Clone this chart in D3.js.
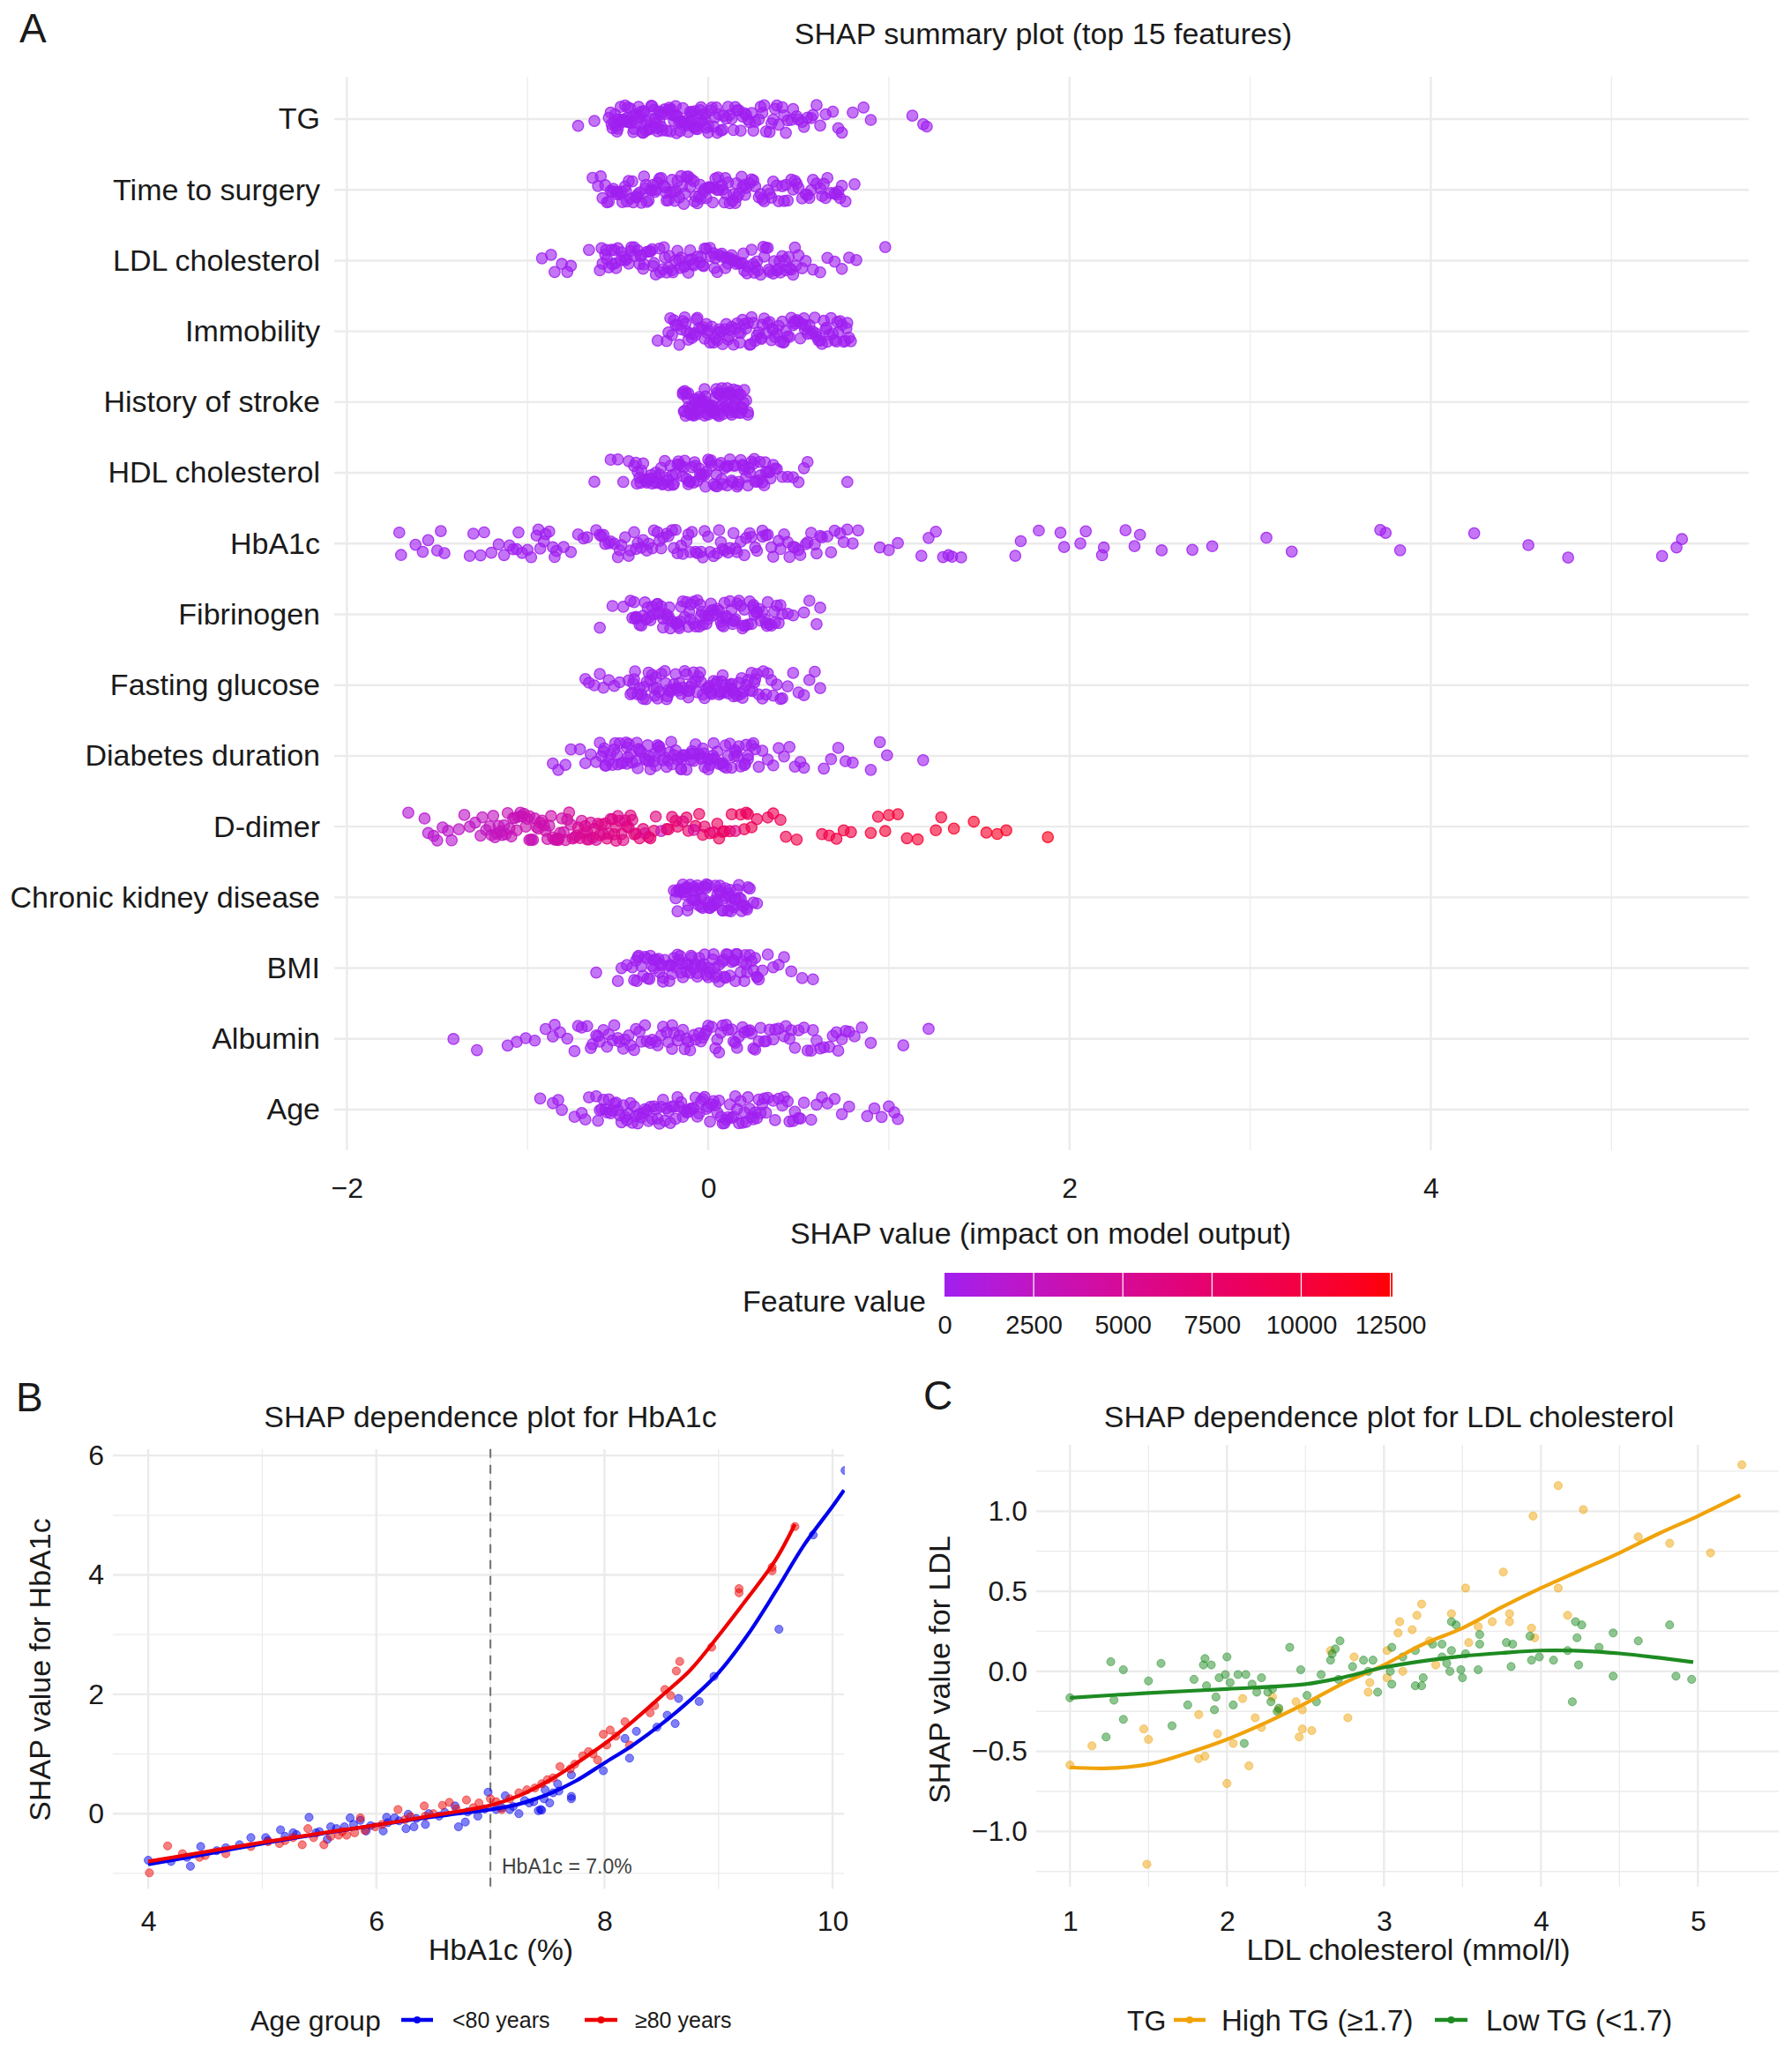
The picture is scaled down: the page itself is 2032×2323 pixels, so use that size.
<!DOCTYPE html>
<html>
<head>
<meta charset="utf-8">
<script src="https://cdn.jsdelivr.net/npm/d3@7"></script>
<style>
  body { margin: 0; background: #fff; }
</style>
</head>
<body>
<script>
// ---------- Panel A: SHAP summary ----------
const features = ["TG", "Time to surgery", "LDL cholesterol", "Immobility", "History of stroke",
  "HDL cholesterol", "HbA1c", "Fibrinogen", "Fasting glucose", "Diabetes duration",
  "D-dimer", "Chronic kidney disease", "BMI", "Albumin", "Age"];
const shapTicks = [-2, 0, 2, 4];
const shapMinor = [-1, 1, 3, 5];

const shapTG = [-0.72,-0.63,-0.55,-0.54,-0.53,-0.51,-0.5,-0.49,-0.47,-0.46,-0.45,-0.44,-0.42,-0.41,-0.4,-0.38,-0.37,-0.36,-0.35,-0.33,-0.32,-0.31,-0.29,-0.28,-0.27,-0.26,-0.24,-0.23,-0.22,-0.2,-0.19,-0.18,-0.17,-0.15,-0.14,-0.13,-0.11,-0.1,-0.09,-0.08,-0.06,-0.05,-0.04,-0.02,-0.01,0,0.02,0.04,0.05,0.07,0.1,0.12,0.13,0.15,0.18,0.2,0.21,0.23,0.26,0.28,0.3,0.32,0.34,0.37,0.39,0.41,0.43,0.46,0.49,0.52,0.55,0.57,0.6,0.62,0.65,0.69,0.72,0.74,0.8,0.86,0.9,1.13,1.19,1.21,
  -0.52,-0.48,-0.43,-0.39,-0.34,-0.3,-0.25,-0.21,-0.16,-0.12,-0.07,-0.03,-0.5,-0.45,-0.36,-0.27,-0.18,-0.09,0.08,0.17,0.25,0.35,0.03,0.11,
  -0.535,-0.505,-0.475,-0.455,-0.425,-0.395,-0.365,-0.345,-0.315,-0.285,-0.255,-0.235,-0.205,-0.175,-0.145,-0.125,-0.095,-0.065,-0.035,-0.015,0.015,0.045,0.085,0.14,0.19,0.24,0.31,0.38,0.44,0.5,0.58,
  -0.515,-0.485,-0.445,-0.415,-0.385,-0.355,-0.325,-0.295,-0.265,-0.215,-0.185,-0.155,-0.105,-0.075,-0.045,0.0,0.06,0.16,0.22,0.29,0.36,0.42,0.47,0.53];
const shapTime = [-0.64,-0.61,-0.57,-0.56,-0.54,-0.53,-0.51,-0.5,-0.48,-0.46,-0.45,-0.43,-0.42,-0.4,-0.39,-0.37,-0.35,-0.34,-0.32,-0.31,-0.29,-0.27,-0.26,-0.24,-0.23,-0.21,-0.2,-0.18,-0.16,-0.15,-0.13,-0.12,-0.1,-0.08,-0.07,-0.05,-0.04,-0.02,0,0.01,0.03,0.04,0.06,0.08,0.09,0.11,0.12,0.14,0.16,0.17,0.19,0.21,0.24,0.26,0.29,0.31,0.34,0.36,0.39,0.42,0.44,0.47,0.49,0.52,0.55,0.57,0.6,0.63,0.65,0.68,0.71,0.73,0.76,0.81,
  -0.55,-0.49,-0.44,-0.38,-0.33,-0.28,-0.22,-0.17,-0.11,-0.06,-0.01,0.05,0.1,0.15,0.2,0.28,0.35,0.46,0.54,0.62,0.7,
  -0.595,-0.525,-0.475,-0.415,-0.355,-0.305,-0.245,-0.185,-0.135,-0.075,-0.025,0.025,0.075,0.135,0.185,0.23,0.3,0.38,0.43,0.5,0.58,0.66,0.74,
  -0.585,-0.505,-0.455,-0.395,-0.345,-0.295,-0.235,-0.195,-0.145,-0.095,-0.045,0.005,0.055,0.095,0.155,0.205,0.25,0.33,0.41,0.48,0.56,0.64,0.72];
const shapLDL = [-0.92,-0.87,-0.85,-0.81,-0.78,-0.76,-0.66,-0.6,-0.59,-0.57,-0.55,-0.53,-0.52,-0.5,-0.48,-0.46,-0.45,-0.43,-0.41,-0.39,-0.38,-0.36,-0.34,-0.32,-0.31,-0.29,-0.27,-0.25,-0.24,-0.22,-0.2,-0.18,-0.17,-0.15,-0.13,-0.11,-0.1,-0.08,-0.06,-0.04,-0.03,-0.01,0.01,0.03,0.04,0.06,0.08,0.1,0.11,0.13,0.15,0.17,0.18,0.2,0.22,0.24,0.25,0.27,0.29,0.31,0.32,0.34,0.36,0.38,0.39,0.41,0.43,0.45,0.46,0.48,0.5,0.54,0.58,0.62,0.66,0.7,0.74,0.78,0.82,0.98,
  -0.56,-0.51,-0.44,-0.37,-0.3,-0.23,-0.16,-0.09,-0.02,0.05,0.12,0.19,0.26,0.33,0.4,0.47,
  -0.585,-0.535,-0.485,-0.425,-0.375,-0.325,-0.265,-0.215,-0.155,-0.105,-0.045,0.015,0.075,0.135,0.195,0.255,0.305,0.365,0.425,0.485,
  -0.565,-0.515,-0.465,-0.405,-0.355,-0.305,-0.245,-0.195,-0.135,-0.085,-0.025,0.035,0.095,0.155,0.215,0.275,0.335,0.395,0.445,0.52];
const shapImmob = [-0.28,-0.22,-0.21,-0.19,-0.18,-0.16,-0.15,-0.13,-0.12,-0.1,-0.09,-0.07,-0.06,-0.04,-0.03,-0.01,0,0.02,0.03,0.05,0.06,0.08,0.09,0.11,0.12,0.14,0.15,0.17,0.18,0.2,0.21,0.23,0.24,0.26,0.27,0.29,0.3,0.32,0.33,0.35,0.36,0.38,0.39,0.41,0.42,0.44,0.45,0.47,0.48,0.5,0.51,0.53,0.54,0.56,0.57,0.59,0.6,0.62,0.63,0.65,0.66,0.68,0.69,0.71,0.72,0.74,0.75,0.77,0.79,
  -0.2,-0.14,-0.08,-0.02,0.04,0.1,0.16,0.22,0.28,0.34,0.4,0.46,0.52,0.58,0.64,0.7,0.76,
  -0.17,-0.11,-0.05,0.01,0.07,0.13,0.19,0.25,0.31,0.37,0.43,0.49,0.55,0.61,0.67,0.73,0.78,
  -0.23,-0.125,-0.065,-0.005,0.055,0.115,0.175,0.235,0.295,0.355,0.415,0.475,0.535,0.595,0.655,0.715,0.765];
const shapStroke = [-0.14,-0.13,-0.13,-0.12,-0.11,-0.11,-0.1,-0.09,-0.08,-0.08,-0.07,-0.06,-0.05,-0.05,-0.04,-0.03,-0.02,-0.02,-0.01,0,0,0.01,0.02,0.03,0.03,0.04,0.05,0.05,0.06,0.07,0.08,0.08,0.09,0.1,0.1,0.11,0.12,0.13,0.13,0.14,0.15,0.15,0.16,0.17,0.18,0.19,0.2,0.21,0.22,
  -0.135,-0.115,-0.095,-0.075,-0.055,-0.035,-0.015,0.005,0.025,0.045,0.065,0.085,0.105,0.125,0.145,0.165,0.185,-0.125,-0.085,-0.045,-0.005,0.035,0.075,0.115,0.155,0.195,
  -0.14,-0.1,-0.06,-0.02,0.02,0.06,0.1,0.14,0.18,0.22];
const shapHDL = [-0.63,-0.54,-0.5,-0.47,-0.44,-0.41,-0.4,-0.38,-0.37,-0.35,-0.34,-0.32,-0.31,-0.29,-0.28,-0.26,-0.25,-0.23,-0.22,-0.2,-0.19,-0.17,-0.16,-0.14,-0.13,-0.11,-0.1,-0.08,-0.07,-0.05,-0.04,-0.02,-0.01,0.01,0.02,0.04,0.05,0.07,0.08,0.1,0.11,0.13,0.14,0.16,0.17,0.19,0.2,0.22,0.23,0.25,0.26,0.28,0.29,0.31,0.32,0.34,0.36,0.38,0.41,0.44,0.47,0.5,0.53,0.55,0.77,
  -0.39,-0.33,-0.27,-0.21,-0.15,-0.09,-0.03,0.03,0.09,0.15,0.21,0.27,0.33,-0.36,-0.24,-0.12,0,0.12,0.24,
  -0.375,-0.315,-0.255,-0.195,-0.135,-0.075,-0.015,0.045,0.105,0.165,0.225,0.285,0.345,-0.29,-0.18,-0.06,0.06,0.18,0.3,
  -0.395,-0.345,-0.285,-0.225,-0.165,-0.105,-0.045,0.015,0.075,0.135,0.195,0.255,0.315,0.37];
const shapHbA1c = [-1.71,-1.7,-1.62,-1.58,-1.55,-1.5,-1.48,-1.46,-1.32,-1.3,-1.26,-1.24,-1.16,-1.13,-1.1,-1.06,-1.03,-1.0,-0.98,-0.95,-0.93,-0.9,-0.88,-0.86,-0.84,-0.76,-0.72,-0.69,-0.67,-0.62,-0.59,-0.57,-0.54,-0.52,-0.49,-0.46,-0.44,-0.41,-0.39,-0.36,-0.33,-0.31,-0.28,-0.25,-0.23,-0.2,-0.18,-0.15,-0.12,-0.1,-0.07,-0.04,-0.02,0.01,0.03,0.06,0.09,0.12,0.15,0.18,0.21,0.24,0.27,0.3,0.33,0.36,0.39,0.42,0.45,0.48,0.51,0.54,0.57,0.6,0.63,0.66,0.7,0.73,0.77,0.8,0.83,0.95,1.0,1.05,1.18,1.22,1.26,1.3,1.33,1.35,1.4,1.7,1.73,1.83,1.95,1.97,2.06,2.09,2.18,2.19,2.31,2.36,2.39,2.51,2.68,2.79,3.09,3.23,3.72,3.75,3.83,4.24,4.54,4.76,5.28,5.36,5.39,
  -0.6,-0.5,-0.4,-0.3,-0.22,-0.14,-0.06,0.0,0.08,0.16,0.26,0.35,0.44,0.55,0.68,-0.94,-1.05,-0.85,
  -0.58,-0.48,-0.37,-0.27,-0.17,-0.09,0.05,0.11,0.2,0.3,0.4,0.5,0.62,0.75,-0.8,-1.2,-1.08,-0.91,
  -0.55,-0.43,-0.34,-0.26,-0.19,-0.11,-0.03,0.07,0.14,0.23,0.32,0.47,0.59];
const shapFib = [-0.6,-0.53,-0.47,-0.43,-0.41,-0.4,-0.38,-0.36,-0.35,-0.33,-0.31,-0.3,-0.28,-0.26,-0.25,-0.23,-0.21,-0.2,-0.18,-0.16,-0.15,-0.13,-0.11,-0.1,-0.08,-0.06,-0.05,-0.03,-0.01,0,0.02,0.04,0.05,0.07,0.09,0.1,0.12,0.14,0.15,0.17,0.19,0.2,0.22,0.24,0.25,0.27,0.29,0.3,0.32,0.34,0.35,0.37,0.39,0.41,0.44,0.47,0.53,0.56,0.6,0.62,
  -0.42,-0.37,-0.32,-0.27,-0.22,-0.17,-0.12,-0.07,-0.02,0.03,0.08,0.13,0.18,0.23,0.28,0.33,0.38,-0.14,-0.04,0.06,0.16,
  -0.405,-0.345,-0.285,-0.225,-0.165,-0.105,-0.045,0.015,0.075,0.135,0.195,0.255,0.315,0.365,-0.25,-0.08,0.0,0.1,0.25,
  -0.395,-0.335,-0.275,-0.215,-0.155,-0.095,-0.035,0.025,0.085,0.145,0.205,0.265,0.325,0.4];
const shapGlu = [-0.68,-0.66,-0.63,-0.6,-0.58,-0.55,-0.52,-0.49,-0.44,-0.42,-0.41,-0.39,-0.37,-0.36,-0.34,-0.32,-0.31,-0.29,-0.27,-0.26,-0.24,-0.22,-0.21,-0.19,-0.17,-0.16,-0.14,-0.12,-0.11,-0.09,-0.07,-0.06,-0.04,-0.02,-0.01,0.01,0.03,0.04,0.06,0.08,0.09,0.11,0.13,0.14,0.16,0.18,0.19,0.21,0.23,0.24,0.26,0.28,0.3,0.33,0.35,0.38,0.41,0.44,0.47,0.5,0.53,0.56,0.59,0.62,
  -0.43,-0.38,-0.33,-0.28,-0.23,-0.18,-0.13,-0.08,-0.03,0.02,0.07,0.12,0.17,0.22,0.27,-0.2,-0.1,0,0.1,
  -0.415,-0.355,-0.295,-0.235,-0.175,-0.115,-0.055,0.005,0.065,0.125,0.185,0.245,0.305,-0.3,-0.15,0.05,0.15,0.36,
  -0.405,-0.345,-0.285,-0.225,-0.165,-0.105,-0.045,0.015,0.075,0.135,0.195,0.255,0.32,0.4];
const shapDiab = [-0.86,-0.83,-0.79,-0.76,-0.71,-0.68,-0.65,-0.62,-0.6,-0.58,-0.57,-0.55,-0.53,-0.52,-0.5,-0.48,-0.47,-0.45,-0.43,-0.42,-0.4,-0.38,-0.37,-0.35,-0.33,-0.32,-0.3,-0.28,-0.27,-0.25,-0.23,-0.22,-0.2,-0.18,-0.17,-0.15,-0.13,-0.12,-0.1,-0.08,-0.07,-0.05,-0.03,-0.02,0,0.02,0.03,0.05,0.07,0.08,0.1,0.12,0.13,0.15,0.17,0.18,0.2,0.22,0.24,0.26,0.28,0.3,0.33,0.36,0.39,0.42,0.45,0.48,0.51,0.53,0.64,0.68,0.72,0.76,0.8,0.9,0.95,0.99,1.19,
  -0.59,-0.54,-0.49,-0.44,-0.39,-0.34,-0.29,-0.24,-0.19,-0.14,-0.09,-0.04,0.01,0.06,0.11,0.16,0.21,0.25,
  -0.575,-0.515,-0.455,-0.395,-0.335,-0.275,-0.215,-0.155,-0.095,-0.035,0.025,0.085,0.145,0.205,-0.45,-0.3,-0.15,0.0,
  -0.565,-0.505,-0.445,-0.385,-0.325,-0.265,-0.205,-0.145,-0.085,-0.025,0.035,0.095,0.155,0.22];
// D-dimer: [SHAP value, raw feature value]
const dDimer = [[-1.66,1500],[-1.57,1800],[-1.55,1600],[-1.52,2000],[-1.5,1700],[-1.47,1900],[-1.44,2100],[-1.42,1800],[-1.38,2200],[-1.32,2500],[-1.29,2300],[-1.26,2600],[-1.23,2400],[-1.2,2800],[-1.18,2600],
  [-1.16,2900],[-1.14,3100],[-1.12,2700],[-1.1,3300],[-1.08,3000],[-1.06,3400],[-1.04,2800],[-1.02,3500],[-1.0,3200],[-0.98,3600],[-0.96,3000],[-0.94,3800],[-0.92,3400],[-0.9,3900],[-0.88,3300],[-0.86,4100],[-0.84,3700],[-0.82,4200],[-0.8,3600],
  [-0.78,4500],[-0.76,4000],[-0.74,4800],[-0.72,5200],[-0.7,4400],[-0.68,5500],[-0.66,5000],[-0.64,5800],[-0.62,4600],[-0.6,6000],[-0.58,5300],[-0.56,6200],[-0.54,5000],[-0.52,6400],[-0.5,5600],[-0.48,6100],[-0.46,4800],[-0.44,6500],[-0.42,5900],[-0.4,6300],
  [-1.11,3000],[-1.03,3300],[-0.95,3500],[-0.87,3800],[-0.79,4300],[-0.71,5000],[-0.63,5400],[-0.55,5700],[-0.47,6000],
  [-1.15,3000],[-1.07,3200],[-0.99,3400],[-0.91,3700],[-0.83,4000],[-0.77,4600],[-0.69,5100],[-0.61,5600],[-0.53,5900],[-0.45,6200],[-1.13,2600],[-0.97,3100],[-0.81,3900],[-0.65,4900],[-0.49,5800],
  [-1.19,2700],[-1.09,3100],[-1.01,3300],[-0.93,3600],[-0.85,4000],[-0.75,4700],[-0.67,5200],[-0.59,5800],[-0.51,6000],[-0.43,6400],[-1.25,2500],[-1.35,2300],[-0.36,6600],[-0.3,7100],[-0.22,7300],[-0.12,7700],[-0.03,8100],[0.05,8300],[0.13,8600],[0.2,8800],
  [-1.17,2800],[-1.05,3200],[-0.89,3800],[-0.73,4900],[-0.57,5900],[-0.41,6400],[-1.21,2600],[-0.99,3300],[-0.83,4100],[-0.67,5300],[-0.51,6100],[-0.33,6900],[-0.18,7400],[-0.07,7900],[0.08,8400],[0.22,8800],
  [-0.38,6800],[-0.35,5200],[-0.32,7000],[-0.29,6500],[-0.26,3000],[-0.23,7200],[-0.2,6900],[-0.17,7500],[-0.14,6200],[-0.11,7800],[-0.08,4500],[-0.05,8000],[-0.02,7600],[0.01,8200],[0.03,7000],[0.06,8500],[0.09,7900],[0.12,8300],[0.15,6000],[0.18,8700],[0.21,8000],[0.24,8900],[0.27,8400],
  [0.33,8600],[0.36,9000],[0.4,8800],[0.43,9200],[0.49,9500],[0.63,9400],[0.67,9800],[0.71,9600],[0.75,10000],[0.79,9700],[0.9,10200],[0.94,10000],[0.98,10500],[1.0,10400],[1.05,10600],[1.1,10300],[1.16,10800],[1.26,10700],[1.29,10500],[1.36,11000],[1.47,11200],[1.54,11100],[1.6,11500],[1.65,11300],[1.88,11800]];
const shapCKD = [-0.19,-0.18,-0.17,-0.16,-0.16,-0.15,-0.14,-0.13,-0.12,-0.12,-0.11,-0.1,-0.09,-0.08,-0.08,-0.07,-0.06,-0.05,-0.04,-0.04,-0.03,-0.02,-0.01,0,0,0.01,0.02,0.03,0.04,0.04,0.05,0.06,0.07,0.08,0.08,0.09,0.1,0.11,0.12,0.12,0.13,0.14,0.15,0.16,0.17,0.18,0.19,0.2,0.21,0.22,0.23,0.25,0.27,
  -0.175,-0.145,-0.115,-0.085,-0.055,-0.025,0.005,0.035,0.065,0.095,0.125,0.155,0.185,0.215,-0.13,-0.07,-0.01,0.05,0.11,0.17];
const shapBMI = [-0.62,-0.5,-0.48,-0.45,-0.42,-0.4,-0.39,-0.37,-0.35,-0.34,-0.32,-0.3,-0.29,-0.27,-0.25,-0.24,-0.22,-0.2,-0.19,-0.17,-0.15,-0.14,-0.12,-0.1,-0.09,-0.07,-0.05,-0.04,-0.02,0,0.01,0.03,0.05,0.06,0.08,0.1,0.11,0.13,0.15,0.16,0.18,0.2,0.21,0.23,0.25,0.27,0.28,0.3,0.33,0.36,0.39,0.42,0.46,0.52,0.58,
  -0.41,-0.36,-0.31,-0.26,-0.21,-0.16,-0.11,-0.06,-0.01,0.04,0.09,0.14,0.19,0.24,-0.3,-0.18,-0.06,0.06,
  -0.395,-0.335,-0.275,-0.215,-0.155,-0.095,-0.035,0.025,0.085,0.145,0.205,0.26,-0.25,-0.12,0.0,0.12,
  -0.385,-0.325,-0.265,-0.205,-0.145,-0.085,-0.025,0.035,0.095,0.155,0.215,0.27];
const shapAlb = [-1.41,-1.28,-1.11,-1.06,-1.01,-0.96,-0.9,-0.86,-0.82,-0.78,-0.74,-0.72,-0.7,-0.67,-0.64,-0.61,-0.58,-0.55,-0.52,-0.49,-0.46,-0.43,-0.4,-0.37,-0.34,-0.31,-0.29,-0.28,-0.25,-0.22,-0.2,-0.19,-0.16,-0.13,-0.11,-0.1,-0.07,-0.04,-0.02,-0.01,0.02,0.05,0.07,0.08,0.11,0.14,0.16,0.17,0.2,0.23,0.25,0.26,0.29,0.32,0.36,0.39,0.43,0.46,0.5,0.53,0.57,0.6,0.64,0.67,0.71,0.74,0.78,0.81,0.85,0.9,1.08,1.22,
  -0.65,-0.56,-0.47,-0.38,-0.26,-0.17,-0.05,0.04,0.13,0.22,0.31,0.42,0.55,0.69,
  -0.6,-0.5,-0.41,-0.32,-0.23,-0.14,-0.08,0.0,0.1,0.19,0.28,0.37,0.48,0.62,0.76,-0.85,
  -0.62,-0.53,-0.44,-0.35,-0.2,-0.12,-0.03,0.06,0.15,0.24,0.34,0.45,0.58,0.72];
const shapAge = [-0.93,-0.86,-0.83,-0.81,-0.74,-0.7,-0.66,-0.62,-0.6,-0.58,-0.56,-0.54,-0.52,-0.5,-0.48,-0.46,-0.44,-0.42,-0.4,-0.38,-0.36,-0.34,-0.32,-0.3,-0.28,-0.26,-0.24,-0.22,-0.2,-0.18,-0.16,-0.14,-0.12,-0.1,-0.08,-0.06,-0.04,-0.02,0,0.02,0.04,0.06,0.08,0.1,0.12,0.14,0.16,0.18,0.2,0.22,0.24,0.26,0.28,0.3,0.33,0.36,0.39,0.42,0.45,0.48,0.51,0.53,0.57,0.6,0.63,0.66,0.7,0.74,0.78,0.88,0.92,0.96,1.0,1.03,1.05,
  -0.61,-0.55,-0.49,-0.43,-0.37,-0.31,-0.25,-0.19,-0.13,-0.07,-0.01,0.05,0.11,0.17,0.23,0.29,0.37,0.47,
  -0.57,-0.51,-0.45,-0.39,-0.33,-0.27,-0.21,-0.15,-0.09,-0.03,0.03,0.09,0.15,0.21,0.27,0.32,0.41,0.5,-0.68,
  -0.59,-0.53,-0.47,-0.41,-0.35,-0.29,-0.23,-0.17,-0.11,-0.05,0.01,0.07,0.13,0.19,0.25,0.31,0.44];

const featureTicks = [0, 2500, 5000, 7500, 10000, 12500];

// ---------- Panel B: HbA1c dependence ----------
const hbTicks = [4, 6, 8, 10];
const hbShapTicks = [0, 2, 4, 6];
const hbYoung = [[4.0,-0.78],[4.37,-0.88],[4.34,-0.73],[4.46,-0.55],[4.68,-0.57],[4.9,-0.4],[5.03,-0.4],[5.16,-0.27],[5.27,-0.32],[5.41,-0.06],[5.47,-0.32],[5.57,-0.43],[5.6,-0.22],[5.72,-0.22],[5.77,-0.07],[5.86,-0.11],[5.91,-0.29],[6.09,-0.06],[6.06,-0.29],[6.16,-0.07],[6.26,-0.25],[6.28,-0.01],[6.33,-0.22],[6.43,-0.18],[6.46,0.0],[6.69,0.13],[6.72,-0.22],[6.78,-0.14],[6.89,-0.04],[6.98,0.36],[7.05,0.07],[7.13,0.3],[7.17,0.07],[7.25,0.0],[7.3,0.22],[7.34,0.18],[7.44,0.07],[7.47,0.25],[7.52,0.18],[7.48,0.4],[7.59,0.5],[7.71,0.29],[7.71,0.25],[7.71,0.65],[7.99,0.72],[8.18,1.26],[8.22,0.93],[8.28,1.38],[8.46,1.45],[8.55,1.65],[8.62,1.51],[8.65,1.93],[8.83,1.88],[8.96,2.3],[9.53,3.09],[9.83,4.67],[10.11,5.75],
  [4.2,-0.8],[4.6,-0.62],[4.8,-0.52],[5.05,-0.45],[5.2,-0.38],[5.3,-0.35],[5.5,-0.3],[5.65,-0.25],[5.8,-0.18],[5.95,-0.2],[6.1,-0.15],[6.2,-0.12],[6.35,-0.08],[6.55,-0.04],[6.6,0.02],[6.8,0.03],[6.95,0.08],[7.1,0.1],[7.2,0.12],[7.38,0.2],[7.42,0.05],[7.45,0.06],[7.55,0.35],[7.6,0.38]];
const hbOld = [[4.01,-0.99],[4.17,-0.54],[4.3,-0.67],[4.45,-0.73],[4.68,-0.67],[5.15,-0.5],[5.27,-0.4],[5.35,-0.52],[5.4,-0.25],[5.54,-0.52],[5.67,-0.36],[5.74,-0.36],[5.81,-0.32],[5.86,-0.07],[5.99,-0.22],[6.19,0.07],[6.42,0.13],[6.43,-0.04],[6.58,0.14],[6.64,0.19],[6.79,0.23],[6.9,0.18],[7.0,0.25],[7.1,0.07],[7.17,0.25],[7.32,0.4],[7.39,0.43],[7.5,0.57],[7.61,0.79],[7.74,0.83],[7.81,0.97],[7.86,1.04],[7.94,0.9],[7.99,1.33],[8.05,1.4],[8.02,1.15],[8.18,1.54],[8.22,1.15],[8.4,1.69],[8.44,1.81],[8.53,2.08],[8.58,1.98],[8.63,2.39],[8.66,2.55],[8.94,2.79],[9.18,3.77],[9.18,3.7],[9.47,4.07],[9.47,4.13],[9.67,4.81],
  [4.5,-0.7],[4.9,-0.55],[5.05,-0.47],[5.2,-0.45],[5.45,-0.4],[5.6,-0.38],[5.7,-0.3],[5.9,-0.28],[6.05,-0.18],[6.25,-0.1],[6.3,-0.05],[6.5,0.0],[6.7,0.08],[6.85,0.1],[7.05,0.2],[7.25,0.35],[7.45,0.5],[7.55,0.6],[7.7,0.75],[7.9,1.0],[8.1,1.3]];
const hbYoungFit = [[4.0,-0.85],[4.5,-0.68],[5.0,-0.5],[5.5,-0.34],[6.0,-0.19],[6.5,-0.05],[7.0,0.07],[7.25,0.16],[7.5,0.32],[7.75,0.55],[8.0,0.85],[8.25,1.15],[8.5,1.5],[8.75,1.9],[9.0,2.36],[9.25,2.98],[9.5,3.72],[9.75,4.5],[10.0,5.15],[10.1,5.42]];
const hbOldFit = [[4.0,-0.8],[4.5,-0.64],[5.0,-0.48],[5.5,-0.33],[6.0,-0.19],[6.5,-0.03],[7.0,0.14],[7.25,0.3],[7.5,0.54],[7.75,0.84],[8.0,1.17],[8.25,1.55],[8.5,1.97],[8.75,2.4],[9.0,2.98],[9.25,3.6],[9.5,4.25],[9.67,4.85]];
const hbCutoff = 7.0;

// ---------- Panel C: LDL dependence ----------
const ldlTicks = [1, 2, 3, 4, 5];
const ldlShapTicks = [-1, -0.5, 0, 0.5, 1];
const ldlHighTG = [[1.0,-0.585],[1.14,-0.465],[1.47,-0.36],[1.5,-0.425],[1.49,-1.205],[1.82,-0.27],[1.82,-0.545],[1.86,-0.53],[1.94,-0.39],[2.0,-0.7],[2.04,-0.45],[2.1,-0.17],[2.14,-0.59],[2.18,-0.29],[2.22,-0.35],[2.29,-0.16],[2.33,-0.24],[2.44,-0.19],[2.46,-0.41],[2.48,-0.36],[2.48,-0.24],[2.54,-0.37],[2.66,0.13],[2.77,-0.29],[2.81,0.09],[2.91,-0.07],[2.9,-0.13],[3.02,-0.04],[3.02,0.13],[3.09,0.24],[3.1,0.31],[3.12,0.0],[3.18,0.26],[3.21,0.35],[3.24,0.42],[3.29,0.19],[3.33,0.04],[3.43,0.36],[3.52,0.52],[3.54,0.18],[3.6,0.28],[3.69,0.31],[3.76,0.62],[3.8,0.31],[3.8,0.36],[3.94,0.27],[3.95,0.97],[3.96,0.21],[4.11,0.52],[4.11,1.16],[4.17,0.35],[4.27,1.01],[4.62,0.84],[4.82,0.8],[5.08,0.74],[5.28,1.29]];
const ldlLowTG = [[1.0,-0.165],[1.23,-0.41],[1.26,0.06],[1.28,-0.18],[1.34,0.01],[1.34,-0.3],[1.5,-0.06],[1.58,0.05],[1.65,-0.34],[1.75,-0.21],[1.79,-0.05],[1.85,0.04],[1.86,0.08],[1.87,-0.09],[1.9,0.04],[1.92,-0.24],[1.93,-0.16],[1.95,-0.04],[1.99,-0.02],[2.0,0.09],[2.02,-0.07],[2.04,-0.21],[2.07,-0.02],[2.12,-0.02],[2.11,-0.45],[2.16,-0.08],[2.19,-0.13],[2.22,-0.04],[2.26,-0.13],[2.28,-0.19],[2.29,-0.11],[2.32,-0.25],[2.33,-0.23],[2.4,0.15],[2.47,0.01],[2.51,-0.15],[2.57,-0.19],[2.6,-0.02],[2.66,0.07],[2.67,0.11],[2.69,0.14],[2.71,-0.05],[2.72,0.19],[2.8,0.03],[2.87,0.07],[2.9,0.0],[2.93,0.07],[2.96,-0.13],[3.04,0.0],[3.05,-0.08],[3.05,0.15],[3.12,0.09],[3.2,-0.09],[3.2,0.13],[3.24,-0.09],[3.25,-0.04],[3.31,0.17],[3.37,0.09],[3.37,0.17],[3.4,0.05],[3.42,0.0],[3.43,0.31],[3.43,0.13],[3.46,0.29],[3.49,0.01],[3.5,-0.04],[3.52,0.11],[3.6,0.01],[3.61,0.23],[3.61,0.17],[3.78,0.18],[3.81,0.03],[3.82,0.17],[3.93,0.22],[3.94,0.07],[3.99,0.09],[4.08,0.07],[4.17,0.13],[4.2,-0.19],[4.22,0.31],[4.23,0.21],[4.24,0.04],[4.26,0.29],[4.37,0.15],[4.46,0.24],[4.46,-0.03],[4.62,0.19],[4.82,0.29],[4.86,-0.03],[4.96,-0.05]];
const ldlHighFit = [[1.0,-0.6],[1.25,-0.605],[1.5,-0.58],[1.75,-0.51],[2.0,-0.425],[2.25,-0.32],[2.5,-0.2],[2.75,-0.07],[3.0,0.04],[3.25,0.17],[3.5,0.27],[3.75,0.4],[4.0,0.52],[4.25,0.63],[4.5,0.74],[4.75,0.86],[5.0,0.97],[5.27,1.1]];
const ldlLowFit = [[1.0,-0.165],[1.5,-0.135],[2.0,-0.11],[2.5,-0.08],[2.75,-0.035],[3.0,0.025],[3.25,0.065],[3.5,0.095],[3.75,0.115],[4.0,0.13],[4.25,0.128],[4.5,0.112],[4.75,0.085],[4.97,0.058]];

// ---------- drawing ----------
const FONT = '"Liberation Sans", Arial, Helvetica, sans-serif';
const INK = "#1a1a1a";
const GRID = "#EBEBEB";

const svg = d3.select("body").append("svg")
    .attr("width", 2032)
    .attr("height", 2323)
    .style("font-family", FONT);
svg.append("rect").attr("width", 2032).attr("height", 2323).attr("fill", "#fff");

function label(g, txt, x, y, size, anchor = "middle", fill = INK) {
    return g.append("text").attr("x", x).attr("y", y).attr("font-size", size)
        .attr("text-anchor", anchor).attr("fill", fill).text(txt);
}

// strip ggplot-minimal style axis: no domain, no ticks
function cleanAxis(g, size) {
    g.attr("font-size", size);
    g.select(".domain").remove();
    g.selectAll(".tick line").remove();
    g.selectAll(".tick text").attr("font-size", size).attr("font-family", FONT).attr("fill", INK);
}

function vGrid(g, scale, vals, y0, y1, w) {
    g.append("g").selectAll("line").data(vals).join("line")
        .attr("x1", d => scale(d)).attr("x2", d => scale(d))
        .attr("y1", y0).attr("y2", y1)
        .attr("stroke", GRID).attr("stroke-width", w);
}
function hGrid(g, scale, vals, x0, x1, w) {
    g.append("g").selectAll("line").data(vals).join("line")
        .attr("y1", d => scale(d)).attr("y2", d => scale(d))
        .attr("x1", x0).attr("x2", x1)
        .attr("stroke", GRID).attr("stroke-width", w);
}

// ===== Panel A =====
const A = svg.append("g");
const xA = d3.scaleLinear().domain([-2.07, 5.76]).range([379, 1983]);
const yA = d3.scalePoint().domain(features).range([135, 1258]);
const colour = d3.scaleLinear().domain([0, 12560]).range(["#A020F0", "#FF0000"]).interpolate(d3.interpolateLab);

vGrid(A, xA, shapMinor, 87, 1304, 1.3);
vGrid(A, xA, shapTicks, 87, 1304, 2.4);
hGrid(A, yA, features, 379, 1983, 2.4);

const rowValues = {
    "TG": shapTG, "Time to surgery": shapTime, "LDL cholesterol": shapLDL, "Immobility": shapImmob,
    "History of stroke": shapStroke, "HDL cholesterol": shapHDL, "HbA1c": shapHbA1c, "Fibrinogen": shapFib,
    "Fasting glucose": shapGlu, "Diabetes duration": shapDiab, "Chronic kidney disease": shapCKD,
    "BMI": shapBMI, "Albumin": shapAlb, "Age": shapAge
};
// raw values of the other features are tiny next to D-dimer, so they sit at the low end of the scale
const points = [];
features.forEach((f, r) => {
    const vals = f === "D-dimer" ? dDimer : rowValues[f].map(v => [v, 0]);
    vals.forEach((d, i) => {
        // vertical jitter (layout only, like geom_jitter height 0.2), from a fixed hash of the index
        const h = Math.sin((i + 1) * 12.9898 + (r + 1) * 78.233) * 43758.5453;
        const j = (h - Math.floor(h)) * 2 - 1;
        points.push({ feature: f, shap: d[0], fv: d[1], jit: j * 16 });
    });
});

A.append("g").selectAll("circle").data(points).join("circle")
    .attr("cx", d => xA(d.shap))
    .attr("cy", d => yA(d.feature) + d.jit)
    .attr("r", 6.2)
    .attr("fill", d => colour(d.fv))
    .attr("fill-opacity", 0.62)
    .attr("stroke", d => colour(d.fv))
    .attr("stroke-opacity", 0.85)
    .attr("stroke-width", 1.3);

A.append("g").attr("transform", "translate(0,1335)")
    .call(d3.axisBottom(xA).tickValues(shapTicks).tickFormat(d3.format("d")).tickSize(0).tickPadding(0))
    .call(g => cleanAxis(g, 32));
A.append("g").attr("transform", "translate(363,0)")
    .call(d3.axisLeft(yA).tickSize(0).tickPadding(0))
    .call(g => cleanAxis(g, 34));

label(A, "SHAP summary plot (top 15 features)", 1183, 50, 34);
label(A, "SHAP value (impact on model output)", 1180, 1410, 34);
label(A, "A", 22, 48, 46, "start");

// colour bar legend
const xBar = d3.scaleLinear().domain([0, 12560]).range([1071, 1579]);
const grad = svg.append("defs").append("linearGradient").attr("id", "fvGrad");
d3.range(0, 1.0001, 0.05).forEach(t => {
    grad.append("stop").attr("offset", t).attr("stop-color", colour(t * 12560));
});
A.append("rect").attr("x", 1071).attr("y", 1443).attr("width", 508).attr("height", 27).attr("fill", "url(#fvGrad)");
A.append("g").selectAll("line").data(featureTicks.slice(1)).join("line")
    .attr("x1", d => xBar(d)).attr("x2", d => xBar(d)).attr("y1", 1443).attr("y2", 1470)
    .attr("stroke", "#fff").attr("stroke-width", 1.2);
A.append("g").attr("transform", "translate(0,1491)")
    .call(d3.axisBottom(xBar).tickValues(featureTicks).tickFormat(d3.format("d")).tickSize(0).tickPadding(0))
    .call(g => cleanAxis(g, 29));
label(A, "Feature value", 1050, 1487, 34, "end");

// ===== Panel B =====
const B = svg.append("g");
const xB = d3.scaleLinear().domain([3.69, 10.1]).range([128, 957]);
const yB = d3.scaleLinear().domain([-1.26, 6.11]).range([2141.5, 1642.7]);
const blue = "#0000EE", red = "#EE0000";

B.append("clipPath").attr("id", "clipB").append("rect")
    .attr("x", 128).attr("y", 1642).attr("width", 830).attr("height", 500);

vGrid(B, xB, [5, 7, 9], 1642.7, 2141.5, 1.3);
vGrid(B, xB, hbTicks, 1642.7, 2141.5, 2.4);
hGrid(B, yB, [-1, 1, 3, 5], 128, 957, 1.3);
hGrid(B, yB, hbShapTicks, 128, 957, 2.4);

B.append("line").attr("x1", xB(hbCutoff)).attr("x2", xB(hbCutoff)).attr("y1", 1642.7).attr("y2", 2141.5)
    .attr("stroke", "#7a7a7a").attr("stroke-width", 2.2).attr("stroke-dasharray", "10,8");

const plotB = B.append("g").attr("clip-path", "url(#clipB)");
[[hbYoung, blue], [hbOld, red]].forEach(([pts, c]) => {
    plotB.append("g").selectAll("circle").data(pts).join("circle")
        .attr("cx", d => xB(d[0])).attr("cy", d => yB(d[1])).attr("r", 4.6)
        .attr("fill", c).attr("fill-opacity", 0.5).attr("stroke", c).attr("stroke-opacity", 0.5).attr("stroke-width", 1);
});
const lineB = d3.line().x(d => xB(d[0])).y(d => yB(d[1])).curve(d3.curveCatmullRom);
plotB.append("path").datum(hbYoungFit).attr("d", lineB).attr("fill", "none").attr("stroke", blue).attr("stroke-width", 4.2);
plotB.append("path").datum(hbOldFit).attr("d", lineB).attr("fill", "none").attr("stroke", red).attr("stroke-width", 4.2);

label(B, "HbA1c = 7.0%", 569, 2124, 23, "start", "#404040");

B.append("g").attr("transform", "translate(0,2166)")
    .call(d3.axisBottom(xB).tickValues(hbTicks).tickFormat(d3.format("d")).tickSize(0).tickPadding(0))
    .call(g => cleanAxis(g, 32));
B.append("g").attr("transform", "translate(118,0)")
    .call(d3.axisLeft(yB).tickValues(hbShapTicks).tickFormat(d3.format("d")).tickSize(0).tickPadding(0))
    .call(g => cleanAxis(g, 32));

label(B, "SHAP dependence plot for HbA1c", 556, 1618, 34);
label(B, "HbA1c (%)", 568, 2222, 34);
label(B, "SHAP value for HbA1c", 0, 0, 34).attr("transform", "translate(57,1893) rotate(-90)");
label(B, "B", 18, 1600, 46, "start");

function legendKey(g, x0, x1, y, c) {
    g.append("line").attr("x1", x0).attr("x2", x1).attr("y1", y).attr("y2", y).attr("stroke", c).attr("stroke-width", 4.5);
    g.append("circle").attr("cx", (x0 + x1) / 2).attr("cy", y).attr("r", 4).attr("fill", c);
}
label(B, "Age group", 284, 2302, 32, "start");
legendKey(B, 455, 491, 2290, blue);
label(B, "<80 years", 513, 2299, 25, "start");
legendKey(B, 663, 700, 2290, red);
label(B, "≥80 years", 720, 2299, 25, "start");

// ===== Panel C =====
const C = svg.append("g");
const xC = d3.scaleLinear().domain([0.785, 5.515]).range([1175, 2017]);
const yC = d3.scaleLinear().domain([-1.345, 1.415]).range([2139, 1638]);
const orange = "#F0A30A", green = "#1E8B22";

vGrid(C, xC, [1.5, 2.5, 3.5, 4.5], 1638, 2139, 1.3);
vGrid(C, xC, ldlTicks, 1638, 2139, 2.4);
hGrid(C, yC, [-1.25, -0.75, -0.25, 0.25, 0.75, 1.25], 1175, 2017, 1.3);
hGrid(C, yC, ldlShapTicks, 1175, 2017, 2.4);

[[ldlHighTG, orange], [ldlLowTG, green]].forEach(([pts, c]) => {
    C.append("g").selectAll("circle").data(pts).join("circle")
        .attr("cx", d => xC(d[0])).attr("cy", d => yC(d[1])).attr("r", 4.6)
        .attr("fill", c).attr("fill-opacity", 0.5).attr("stroke", c).attr("stroke-opacity", 0.5).attr("stroke-width", 1);
});
const lineC = d3.line().x(d => xC(d[0])).y(d => yC(d[1])).curve(d3.curveCatmullRom);
C.append("path").datum(ldlHighFit).attr("d", lineC).attr("fill", "none").attr("stroke", orange).attr("stroke-width", 4.2);
C.append("path").datum(ldlLowFit).attr("d", lineC).attr("fill", "none").attr("stroke", green).attr("stroke-width", 4.2);

C.append("g").attr("transform", "translate(0,2166)")
    .call(d3.axisBottom(xC).tickValues(ldlTicks).tickFormat(d3.format("d")).tickSize(0).tickPadding(0))
    .call(g => cleanAxis(g, 32));
C.append("g").attr("transform", "translate(1165,0)")
    .call(d3.axisLeft(yC).tickValues(ldlShapTicks).tickFormat(d3.format(".1f")).tickSize(0).tickPadding(0))
    .call(g => cleanAxis(g, 32));

label(C, "SHAP dependence plot for LDL cholesterol", 1575, 1618, 34);
label(C, "LDL cholesterol (mmol/l)", 1597, 2222, 34);
label(C, "SHAP value for LDL", 0, 0, 34).attr("transform", "translate(1077,1893) rotate(-90)");
label(C, "C", 1047, 1598, 46, "start");

label(C, "TG", 1278, 2302, 32, "start");
legendKey(C, 1331, 1367, 2290, orange);
label(C, "High TG (≥1.7)", 1385, 2302, 33, "start");
legendKey(C, 1627, 1664, 2290, green);
label(C, "Low TG (<1.7)", 1685, 2302, 33, "start");
</script>
</body>
</html>
